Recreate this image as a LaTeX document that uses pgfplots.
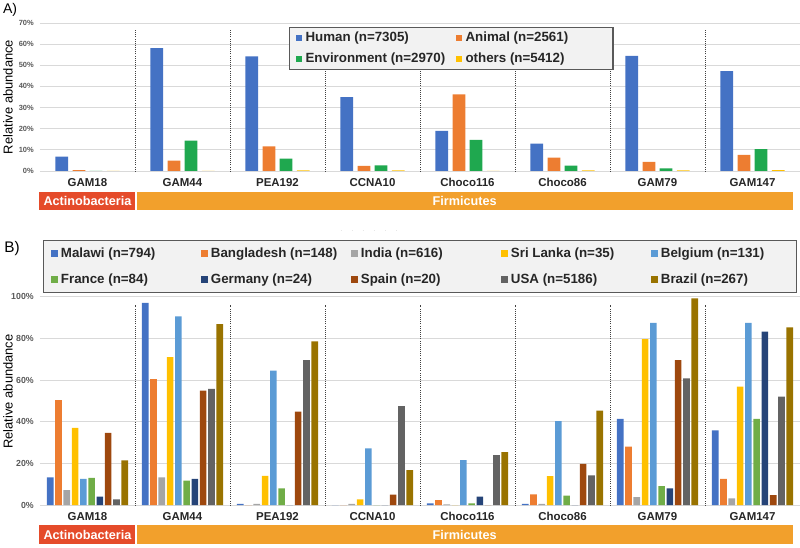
\documentclass[border=0pt]{standalone}
\usepackage{fontspec}
\setmainfont{Liberation Sans}
\usepackage{pgfplots}
\usepackage{pgfplotstable}
\pgfplotsset{compat=1.18}

\definecolor{cHuman}{HTML}{4472C4}
\definecolor{cAnimal}{HTML}{ED7D31}
\definecolor{cEnv}{HTML}{1FA84F}
\definecolor{cOther}{HTML}{FFC000}
\definecolor{cMalawi}{HTML}{4472C4}
\definecolor{cBangladesh}{HTML}{ED7D31}
\definecolor{cIndia}{HTML}{A5A5A5}
\definecolor{cSriLanka}{HTML}{FFC000}
\definecolor{cBelgium}{HTML}{5B9BD5}
\definecolor{cFrance}{HTML}{70AD47}
\definecolor{cGermany}{HTML}{264478}
\definecolor{cSpain}{HTML}{9E480E}
\definecolor{cUSA}{HTML}{636363}
\definecolor{cBrazil}{HTML}{997300}
\definecolor{gridgray}{HTML}{D9D9D9}
\definecolor{legfill}{HTML}{F2F2F2}
\definecolor{legdraw}{HTML}{595959}
\definecolor{ticktext}{HTML}{595959}
\definecolor{cattext}{HTML}{262626}
\definecolor{actino}{HTML}{E54B2A}
\definecolor{firmi}{HTML}{F2A02C}
\definecolor{sepgray}{HTML}{404040}

\pgfplotstableread{
x Human Animal Env Others
0 6.8  0.4  0    0
1 58.1 4.9  14.4 0
2 54.2 11.6 5.9  0.3
3 34.9 2.4  2.7  0.3
4 19.0 36.2 14.7 0
5 12.9 6.3  2.5  0.3
6 54.5 4.3  1.2  0.3
7 47.2 7.6  10.3 0.4
}\topdata

\pgfplotstableread{
x Malawi Bangladesh India SriLanka Belgium France Germany Spain USA Brazil
0 13.3 50.4 7.2  37.0 12.6 13.0 4.0  34.6 2.7  21.4
1 97.0 60.5 13.3 71.0 90.6 11.7 12.5 54.9 55.8 86.9
2 0.5  0    0.5  14.0 64.5 8.0  0    44.8 69.6 78.6
3 0    0    0.5  2.7  27.2 0    0    5.0  47.5 16.8
4 0.8  2.4  0.3  0    21.6 0.8  4.0  0    24.0 25.4
5 0.5  5.1  0.5  13.9 40.3 4.5  0    19.7 14.2 45.3
6 41.3 28.0 3.8  79.7 87.5 9.1  8.0  69.6 60.8 99.2
7 35.8 12.6 3.2  56.8 87.5 41.3 83.2 4.8  52.0 85.3
}\botdata

\pgfplotsset{
  common/.style={
    scale only axis, width=570pt, anchor=south west,
    xmin=-0.5, xmax=7.5, ymin=0,
    axis line style={draw=none}, tick style={draw=none},
    major tick length=0pt,
    ymajorgrids, grid style={color=gridgray, line width=0.6pt},
    xtick={0,...,7},
    xticklabels={GAM18,GAM44,PEA192,CCNA10,Choco116,Choco86,GAM79,GAM147},
    xticklabel style={font=\bfseries\fontsize{8.6}{10}\selectfont, text=cattext, yshift=-2pt},
    /pgf/number format/assume math mode=true,
    yticklabel={\pgfmathprintnumber{\tick}\%},
    yticklabel style={text=ticktext, inner sep=0pt, xshift=-4.5pt},
    ylabel={Relative abundance},
    clip=false,
    legend cell align=left,
  },
}

\begin{document}
\begin{tikzpicture}
\path[use as bounding box] (0,0) rectangle (600pt,410.25pt);
\node[font=\fontsize{10.5}{12}\selectfont, anchor=center] at (7.5pt,403pt) {A)};
\node[font=\fontsize{11.5}{13}\selectfont, anchor=center] at (9pt,223.5pt) {B)};
\node[text=gray!60, font=\fontsize{5}{6}\selectfont] at (276.75pt,237pt) {$\cdot$\hspace{6pt}$\cdot$\hspace{6pt}$\cdot$\hspace{6pt}$\cdot$\hspace{6pt}$\cdot$\hspace{6pt}$\cdot$};

% ---------------- Panel A ----------------
\begin{axis}[common,
  at={(30pt,282pt)}, height=111pt, ymax=70,
  ytick={0,10,...,70},
  yticklabel style={font=\bfseries\fontsize{5.6}{7}\selectfont},
  ylabel style={at={(rel axis cs:-0.042,0.5)}, anchor=center, font=\fontsize{9.7}{11}\selectfont},
  ybar=3.25pt, bar width=9.6pt,
  legend image code/.code={\fill[#1] (0pt,-2.5pt) rectangle (5pt,2.5pt);},
  legend columns=2,
  legend style={at={(rel axis cs:0.3276,0.973)}, anchor=north west,
    draw=legdraw, line width=0.9pt, fill=legfill,
    inner xsep=4.5pt, inner ysep=2.7pt, row sep=5.75pt,
    font=\bfseries\fontsize{10}{12}\selectfont,
    /tikz/every odd column/.append style={column sep=2.5pt},
    nodes={inner sep=0pt, text height=8pt, text depth=2pt, text=cattext}},
]
\addplot[fill=cHuman, draw=none] table[x=x, y=Human] {\topdata};
\addlegendentry{\makebox[112.5pt][l]{Human (n=7305)}}
\addplot[fill=cAnimal, draw=none] table[x=x, y=Animal] {\topdata};
\addlegendentry{\makebox[106pt][l]{Animal (n=2561)}}
\addplot[fill=cEnv, draw=none] table[x=x, y=Env] {\topdata};
\addlegendentry{\makebox[112.5pt][l]{Environment (n=2970)}}
\addplot[fill=cOther, draw=none] table[x=x, y=Others] {\topdata};
\addlegendentry{\makebox[106pt][l]{others (n=5412)}}
\foreach \s in {0.5,1.5,...,6.5} {
  \edef\tmp{\noexpand\draw[sepgray, densely dotted, line width=0.6pt] (axis cs:\s,-0.3) -- (axis cs:\s,66.7);}
  \tmp
}
\fill[actino] (axis cs:-0.51,-9.7) rectangle (axis cs:0.5,-18.45);
\fill[firmi] (axis cs:0.518,-9.7) rectangle (axis cs:7.426,-18.45);
\node[text=white, font=\bfseries\fontsize{9.5}{11}\selectfont] at (axis cs:0,-14.1) {Actinobacteria};
\node[text=white, font=\bfseries\fontsize{9.5}{11}\selectfont] at (axis cs:3.97,-14.1) {Firmicutes};
\end{axis}

% ---------------- Panel B ----------------
\begin{axis}[common,
  at={(30pt,31.5pt)}, height=156.2pt, ymax=100,
  ytick={0,20,...,100},
  yticklabel style={font=\bfseries\fontsize{6.6}{8}\selectfont},
  ylabel style={at={(rel axis cs:-0.042,0.545)}, anchor=center, font=\fontsize{9.7}{11}\selectfont},
  ybar=1.2pt, bar width=5pt,
  legend image code/.code={\fill[#1] (0pt,-2.6pt) rectangle (5.2pt,2.6pt);},
  legend columns=5,
  legend style={at={(rel axis cs:0.0036,1.272)}, anchor=north west,
    draw=legdraw, line width=0.9pt, fill=legfill,
    inner xsep=5.5pt, inner ysep=4.5pt, row sep=9.7pt,
    font=\bfseries\fontsize{10}{12}\selectfont,
    /tikz/every odd column/.append style={column sep=2.5pt},
    nodes={inner sep=0pt, text height=8pt, text depth=2pt, text=cattext}},
]
\addplot[fill=cMalawi, draw=none] table[x=x, y=Malawi] {\botdata};
\addlegendentry{\makebox[104.8pt][l]{Malawi (n=794)}}
\addplot[fill=cBangladesh, draw=none] table[x=x, y=Bangladesh] {\botdata};
\addlegendentry{\makebox[104.8pt][l]{Bangladesh (n=148)}}
\addplot[fill=cIndia, draw=none] table[x=x, y=India] {\botdata};
\addlegendentry{\makebox[104.8pt][l]{India (n=616)}}
\addplot[fill=cSriLanka, draw=none] table[x=x, y=SriLanka] {\botdata};
\addlegendentry{\makebox[104.8pt][l]{Sri Lanka (n=35)}}
\addplot[fill=cBelgium, draw=none] table[x=x, y=Belgium] {\botdata};
\addlegendentry{\makebox[96pt][l]{Belgium (n=131)}}
\addplot[fill=cFrance, draw=none] table[x=x, y=France] {\botdata};
\addlegendentry{\makebox[104.8pt][l]{France (n=84)}}
\addplot[fill=cGermany, draw=none] table[x=x, y=Germany] {\botdata};
\addlegendentry{\makebox[104.8pt][l]{Germany (n=24)}}
\addplot[fill=cSpain, draw=none] table[x=x, y=Spain] {\botdata};
\addlegendentry{\makebox[104.8pt][l]{Spain (n=20)}}
\addplot[fill=cUSA, draw=none] table[x=x, y=USA] {\botdata};
\addlegendentry{\makebox[104.8pt][l]{USA (n=5186)}}
\addplot[fill=cBrazil, draw=none] table[x=x, y=Brazil] {\botdata};
\addlegendentry{\makebox[96pt][l]{Brazil (n=267)}}
\foreach \s in {0.5,1.5,...,6.5} {
  \edef\tmp{\noexpand\draw[sepgray, densely dotted, line width=0.6pt] (axis cs:\s,-0.3) -- (axis cs:\s,96);}
  \tmp
}
\fill[actino] (axis cs:-0.51,-9.6) rectangle (axis cs:0.5,-18.9);
\fill[firmi] (axis cs:0.518,-9.6) rectangle (axis cs:7.426,-18.9);
\node[text=white, font=\bfseries\fontsize{9.5}{11}\selectfont] at (axis cs:0,-14.25) {Actinobacteria};
\node[text=white, font=\bfseries\fontsize{9.5}{11}\selectfont] at (axis cs:3.97,-14.25) {Firmicutes};
\end{axis}
\end{tikzpicture}
\end{document}
